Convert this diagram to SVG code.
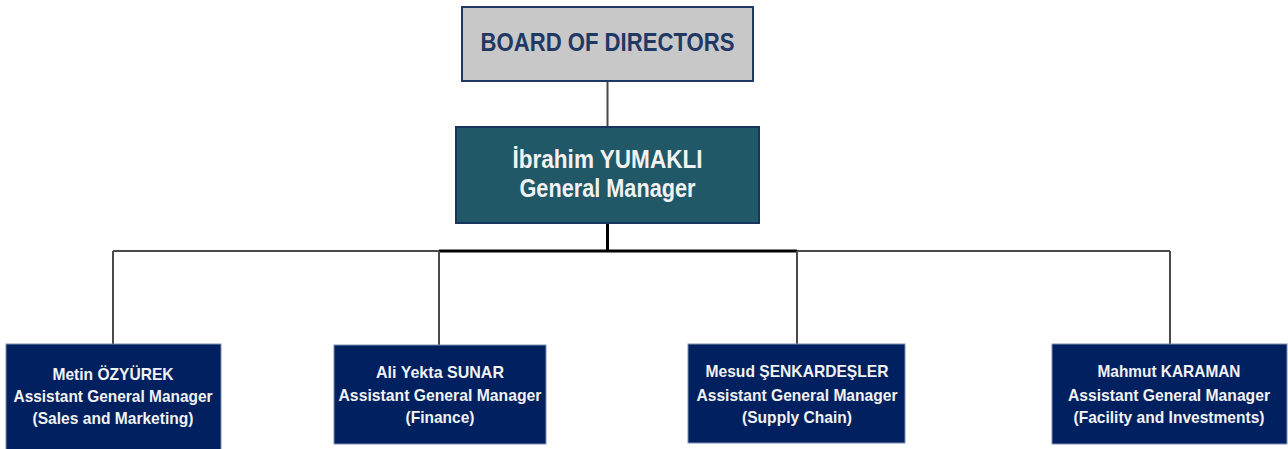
<svg xmlns="http://www.w3.org/2000/svg" width="1288" height="449" viewBox="0 0 1288 449">
<style>
.t{font-family:"Liberation Sans",Arial,sans-serif;font-weight:bold;text-anchor:middle}
.big{font-size:25px}
.sm{font-size:17px;fill:#f2f2f2}
.child{fill:#002060;stroke:#7f8fb0;stroke-width:1}
.thin{stroke:#4a4a4a;stroke-width:2;fill:none}
.thick{stroke:#000;stroke-width:3;fill:none}
</style>
<rect width="1288" height="449" fill="#fff"/>
<g id="connectors">
<line class="thin" x1="607.5" y1="81" x2="607.5" y2="127"/>
<line class="thin" x1="113" y1="251" x2="1170" y2="251"/>
<line class="thick" x1="439" y1="251" x2="797" y2="251"/>
<line class="thick" x1="607.5" y1="223" x2="607.5" y2="251"/>
<polyline class="thin" points="113,251 113,344"/>
<polyline class="thin" points="439,251 439,345"/>
<polyline class="thin" points="797,251 797,344"/>
<polyline class="thin" points="1170,251 1170,344"/>
</g>
<g id="board">
<rect x="462" y="7" width="291" height="74" fill="#c8c8c8" stroke="#1f3864" stroke-width="2"/>
<text class="t big" x="607.5" y="51" fill="#1f3864" textLength="254" lengthAdjust="spacingAndGlyphs">BOARD OF DIRECTORS</text>
</g>
<g id="gm">
<rect x="456" y="127" width="303" height="96" fill="#215868" stroke="#17365d" stroke-width="2"/>
<text class="t big" x="607.5" y="168" fill="#f2f2f2" textLength="190" lengthAdjust="spacingAndGlyphs">İbrahim YUMAKLI</text>
<text class="t big" x="607.5" y="197" fill="#f2f2f2" textLength="176" lengthAdjust="spacingAndGlyphs">General Manager</text>
</g>
<g id="agm1">
<rect class="child" x="6" y="344" width="215" height="106"/>
<text class="t sm" x="113" y="380" textLength="121" lengthAdjust="spacingAndGlyphs">Metin ÖZYÜREK</text>
<text class="t sm" x="113" y="402" textLength="199" lengthAdjust="spacingAndGlyphs">Assistant General Manager</text>
<text class="t sm" x="113" y="424" textLength="161" lengthAdjust="spacingAndGlyphs">(Sales and Marketing)</text>
</g>
<g id="agm2">
<rect class="child" x="334" y="345" width="212" height="99"/>
<text class="t sm" x="440" y="378" textLength="128" lengthAdjust="spacingAndGlyphs">Ali Yekta SUNAR</text>
<text class="t sm" x="440" y="401" textLength="203" lengthAdjust="spacingAndGlyphs">Assistant General Manager</text>
<text class="t sm" x="440" y="423" textLength="69" lengthAdjust="spacingAndGlyphs">(Finance)</text>
</g>
<g id="agm3">
<rect class="child" x="688" y="344" width="217" height="99"/>
<text class="t sm" x="797" y="377" textLength="183" lengthAdjust="spacingAndGlyphs">Mesud ŞENKARDEŞLER</text>
<text class="t sm" x="797" y="401" textLength="201" lengthAdjust="spacingAndGlyphs">Assistant General Manager</text>
<text class="t sm" x="797" y="423" textLength="110" lengthAdjust="spacingAndGlyphs">(Supply Chain)</text>
</g>
<g id="agm4">
<rect class="child" x="1052" y="344" width="235" height="100"/>
<text class="t sm" x="1169" y="377" textLength="143" lengthAdjust="spacingAndGlyphs">Mahmut KARAMAN</text>
<text class="t sm" x="1169" y="401" textLength="202" lengthAdjust="spacingAndGlyphs">Assistant General Manager</text>
<text class="t sm" x="1169" y="423" textLength="191" lengthAdjust="spacingAndGlyphs">(Facility and Investments)</text>
</g>
</svg>
